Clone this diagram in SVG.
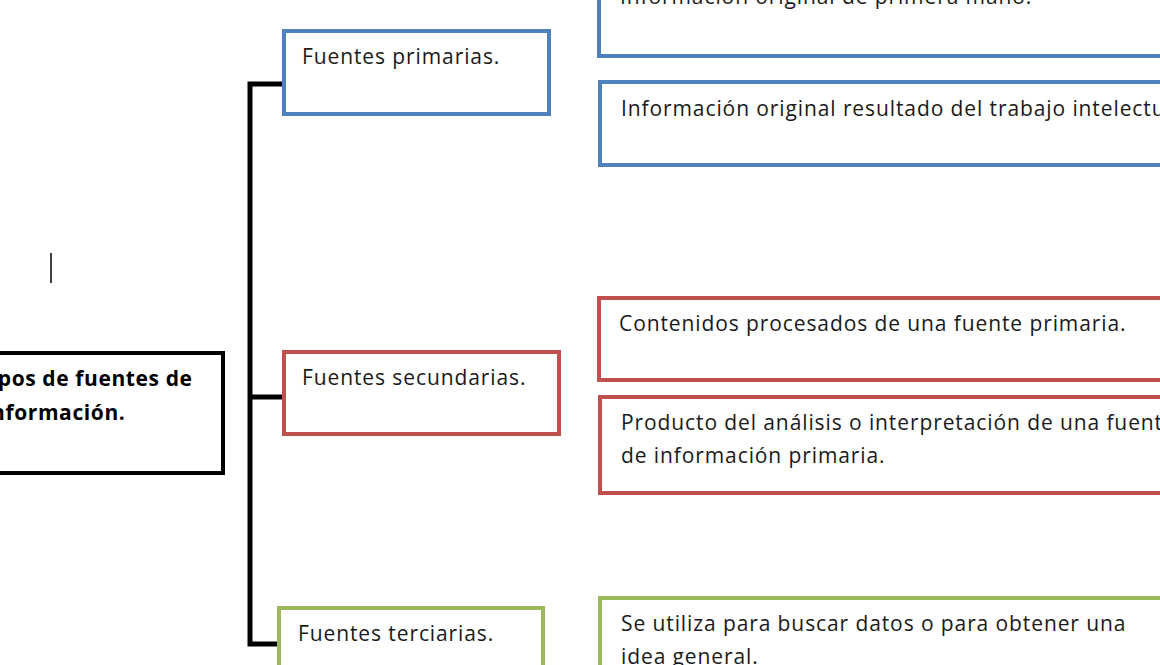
<svg xmlns="http://www.w3.org/2000/svg" width="1160" height="665" viewBox="0 0 1160 665">
<style>
text{font-family:"Open Sans","Liberation Sans",sans-serif;font-size:21px;letter-spacing:0.9px;fill:#1a1a1a}
.b{fill:#fff;stroke-width:4}
.blue{stroke:#4f81bd}.red{stroke:#c0504d}.green{stroke:#9bbb59}
.bold{font-weight:bold;fill:#000;letter-spacing:0.6px}
</style>
<rect width="1160" height="665" fill="#fff"/>
<g id="connectors" fill="none" stroke="#000" stroke-width="5">
<path d="M284 84H250V644H284M250 397H284"/>
</g>
<g id="root"><rect x="-10" y="353" width="233" height="120" fill="#fff" stroke="#000" stroke-width="4"/>
<text class="bold" x="-22" y="386">Tipos de fuentes de</text><text class="bold" x="-16" y="420">información.</text></g>
<line x1="51" y1="253" x2="51" y2="283" stroke="#000" stroke-width="1.5"/>
<g id="primarias"><rect class="b blue" x="284" y="31" width="265" height="83"/><text x="302" y="64">Fuentes primarias.</text></g>
<g id="secundarias"><rect class="b red" x="284" y="352" width="275" height="82"/><text x="302" y="385">Fuentes secundarias.</text></g>
<g id="terciarias"><rect class="b green" x="279" y="608" width="264" height="80"/><text x="298" y="641">Fuentes terciarias.</text></g>
<g id="p1"><rect class="b blue" x="599" y="-30" width="580" height="86"/><text x="620" y="4">Información original de primera mano.</text></g>
<g id="p2"><rect class="b blue" x="600" y="82" width="580" height="83"/><text x="621" y="116">Información original resultado del trabajo intelectual</text></g>
<g id="s1"><rect class="b red" x="599" y="298" width="580" height="82"/><text x="619" y="331">Contenidos procesados de una fuente primaria.</text></g>
<g id="s2"><rect class="b red" x="600" y="397" width="580" height="96"/><text x="621" y="430">Producto del análisis o interpretación  de una fuente</text><text x="621" y="463">de información primaria.</text></g>
<g id="t1"><rect class="b green" x="600" y="598" width="580" height="90"/><text x="621" y="631">Se utiliza para buscar datos o para obtener una</text><text x="621" y="664">idea general.</text></g>
</svg>
